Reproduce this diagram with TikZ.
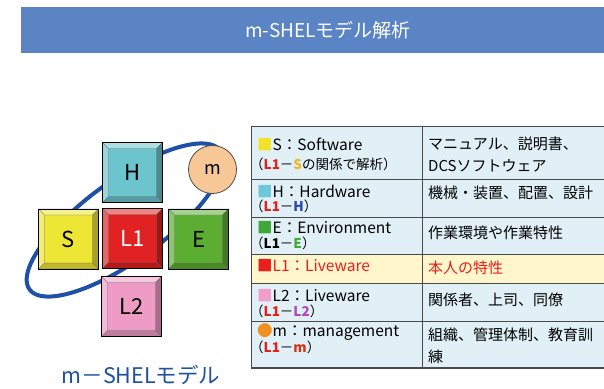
\documentclass[tikz,border=0pt]{standalone}
\usepackage{fontspec}
\setmainfont{Noto Sans CJK JP}
\usetikzlibrary{calc}
\definecolor{barblue}{HTML}{5B84C4}
\definecolor{ringblue}{HTML}{1F4FA6}
\definecolor{faceH}{HTML}{6CC4CC}
\definecolor{faceS}{HTML}{EEE634}
\definecolor{faceL}{HTML}{E02222}
\definecolor{faceE}{HTML}{5CAE32}
\definecolor{faceP}{HTML}{EE9CC6}
\definecolor{mfill}{HTML}{F7C896}
\definecolor{rowblue}{HTML}{E0F0F6}
\definecolor{rowyel}{HTML}{FFF6CC}
\definecolor{gridc}{HTML}{4A4A4A}
\definecolor{cY}{HTML}{F2E22A}
\definecolor{cYS}{HTML}{F0B428}
\definecolor{cC}{HTML}{6CC8D8}
\definecolor{cH}{HTML}{2848A8}
\definecolor{cG}{HTML}{40A838}
\definecolor{cR}{HTML}{E8201C}
\definecolor{cP}{HTML}{F0A0C8}
\definecolor{cPL}{HTML}{B048B8}
\definecolor{cO}{HTML}{F09020}
\definecolor{cM}{HTML}{D83010}
\definecolor{labblue}{HTML}{2050A0}
\newcommand\bevsq[5]{%
  \node[sq, fill=#3] (#1) at (#2) {};
  \fill[#3!55!white, draw=black!60, line width=0.3pt] (#1.north west) -- (#1.north east) -- ($(#1.north east)+(-6,6)$) -- ($(#1.north west)+(6,6)$) -- cycle;
  \fill[#3!70!white, draw=black!60, line width=0.3pt] (#1.north west) -- (#1.south west) -- ($(#1.south west)+(6,-6)$) -- ($(#1.north west)+(6,6)$) -- cycle;
  \fill[#3!70!black, draw=black!60, line width=0.3pt] (#1.north east) -- (#1.south east) -- ($(#1.south east)+(-6,-6)$) -- ($(#1.north east)+(-6,6)$) -- cycle;
  \fill[#3!80!black, draw=black!60, line width=0.3pt] (#1.south west) -- (#1.south east) -- ($(#1.south east)+(-6,-6)$) -- ($(#1.south west)+(6,-6)$) -- cycle;
  \draw[black, line width=0.7pt] (#1.north west) rectangle (#1.south east);
  \node[font=\fontsize{22}{24}\selectfont, text=#4] (#1-t) at (#1.center) {#5};
}
\begin{document}
\begin{tikzpicture}[x=1pt,y=-1pt,
  sq/.style={minimum size=60pt, inner sep=0pt, outer sep=0pt},
  ring/.style={draw=ringblue, line width=4pt},
  lt/.style={anchor=west, inner sep=0pt, font=\fontsize{15.5}{17}\selectfont},
  lt2/.style={anchor=west, inner sep=0pt, font=\fontsize{13.5}{15}\selectfont},
  rt/.style={anchor=west, inner sep=0pt, font=\fontsize{15}{17}\selectfont},
  grid/.style={draw=gridc, line width=1pt}]
\useasboundingbox (0,0) rectangle (604,388);
\fill[white] (0,0) rectangle (604,388);
% title bar
\fill[barblue] (20.5,7) rectangle (604,53);
\node[text=white, font=\fontsize{19}{21}\selectfont] (title) at (328,30) {m-SHELモデル解析};
% ring
\draw[ring] plot[domain=0:360, samples=121, variable=\t]
  ({125+118*cos(\t)*0.809+40*sin(\t)*0.588}, {220-118*cos(\t)*0.588+40*sin(\t)*0.809}) -- cycle;
% squares
\bevsq{H}{132.5,172.5}{faceH}{black}{H}
\bevsq{S}{68.5,239}{faceS}{black}{S}
\bevsq{L1}{132.5,238.5}{faceL}{white}{L1}
\bevsq{E}{198.5,239}{faceE}{black}{E}
\bevsq{L2}{131.5,306.5}{faceP}{black}{L2}
\node[circle, fill=mfill, draw=black!70, line width=0.8pt, minimum size=48pt, inner sep=0pt, font=\fontsize{18}{20}\selectfont] (m) at (212.5,169.5) {m};
\node[text=labblue, font=\fontsize{21.5}{23}\selectfont] (lab) at (141,375) {m－SHELモデル};
% table
\fill[rowblue] (251,126) rectangle (604,254);
\fill[rowyel] (251,254) rectangle (604,283);
\fill[rowblue] (251,283) rectangle (604,368);
\draw[grid] (251,126) -- (604,126);
\draw[grid] (251,179) -- (604,179);
\draw[grid] (251,217) -- (604,217);
\draw[grid] (251,254) -- (604,254);
\draw[grid] (251,283) -- (604,283);
\draw[grid] (251,321) -- (604,321);
\draw[draw=gridc, line width=2.2pt] (251,368) -- (604,368);
\draw[grid] (251,126) -- (251,369);
\draw[grid] (422,126) -- (422,369);
% left column
\node[lt] (t1a) at (257,144) {{\color{cY}■}S：Software};
\node[lt2] (t1b) at (250,164) {（{\bfseries\color{cR}L1}－{\bfseries\color{cYS}S}の関係で解析）};
\node[lt] (t2a) at (257,191) {{\color{cC}■}H：Hardware};
\node[lt2] (t2b) at (250,206) {（{\bfseries\color{cR}L1}－{\bfseries\color{cH}H}）};
\node[lt] (t3a) at (257,228) {{\color{cG}■}E：Environment};
\node[lt2] (t3b) at (250,243) {（{\bfseries L1}－{\bfseries\color{cG}E}）};
\node[lt, text=cR] (t4a) at (257,266) {■L1：Liveware};
\node[lt] (t5a) at (257,296) {{\color{cP}■}L2：Liveware};
\node[lt2] (t5b) at (250,311) {（{\bfseries\color{cR}L1}－{\bfseries\color{cPL}L2}）};
\node[lt] (t6a) at (257,332) {{\color{cO}●}m：management};
\node[lt2] (t6b) at (250,347) {（{\bfseries\color{cR}L1}－{\bfseries\color{cM}m}）};
% right column
\node[rt] (r1a) at (428,144) {マニュアル、説明書、};
\node[rt] (r1b) at (428,166) {DCSソフトウェア};
\node[rt] (r2) at (428,193) {機械・装置、配置、設計};
\node[rt] (r3) at (428,233) {作業環境や作業特性};
\node[rt, text=cR] (r4) at (428,268) {本人の特性};
\node[rt] (r5) at (428,300) {関係者、上司、同僚};
\node[rt] (r6a) at (428,335) {組織、管理体制、教育訓};
\node[rt] (r6b) at (428,357) {練};
\end{tikzpicture}
\end{document}
